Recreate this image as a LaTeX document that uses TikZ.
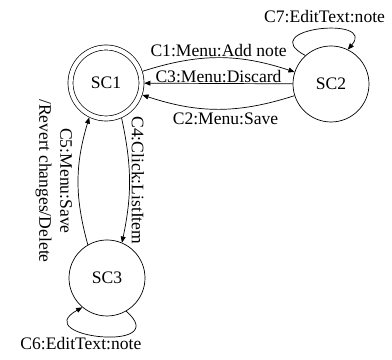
\documentclass[tikz,border=0pt]{standalone}
\usepackage{fontspec}
\setmainfont{Liberation Serif}
\usetikzlibrary{arrows.meta, positioning}

\begin{document}
\begin{tikzpicture}[
  scnode/.style={draw, circle, minimum size=1.52cm, inner sep=0pt,
                 font=\fontsize{10}{12}\selectfont},
  startnode/.style={scnode, minimum size=1.42cm, double,
                    double distance=2.45pt, outer sep=1.6pt},
  arrow/.style={-{Triangle[length=3.5pt, width=2.8pt]}},
  lbl/.style={font=\fontsize{10}{12}\selectfont},
]
  \useasboundingbox (0,0) rectangle (7.84,7.2);

  % States
  \node[startnode] (sc1) at (2.12, 5.54) {SC1};
  \node[scnode] (sc2) at (6.62, 5.52) {SC2};
  \node[scnode] (sc3) at (2.14, 1.64) {SC3};

  % SC1 <-> SC2
  \draw[arrow] (sc1) to[bend left=18]
    node[midway, above, lbl, inner sep=0.5pt] {C1:Menu:Add note} (sc2);
  \draw[arrow] (sc2) --
    node[midway, above, lbl, inner sep=0.5pt] {C3:Menu:Discard} (sc1);
  \draw[arrow] (sc2) to[bend left=18]
    node[pos=0.45, below, lbl, inner sep=2pt] {C2:Menu:Save} (sc1);

  % SC1 <-> SC3
  \draw[arrow] (sc1.-66) to[bend left=12]
    node[midway, anchor=south, rotate=-90, lbl, inner sep=1pt] {C4:Click:ListItem} (sc3.67);
  \draw[arrow] (sc3.120) to[bend left=16]
    node[midway, anchor=north, rotate=-90, lbl, align=center]
    {C5:Menu:Save\\/Revert changes/Delete} (sc1.-116);

  % Self loops
  \draw[arrow] (sc2.132) .. controls +(152:1.17) and +(49:0.9) ..
    node[pos=0.55, above, lbl] {C7:EditText:note} (sc2.64);
  \draw[arrow] (sc3.-60) .. controls +(-41:1.28) and +(209:1.25) ..
    node[pos=0.66, below, lbl] {C6:EditText:note} (sc3.230);

\end{tikzpicture}
\end{document}
